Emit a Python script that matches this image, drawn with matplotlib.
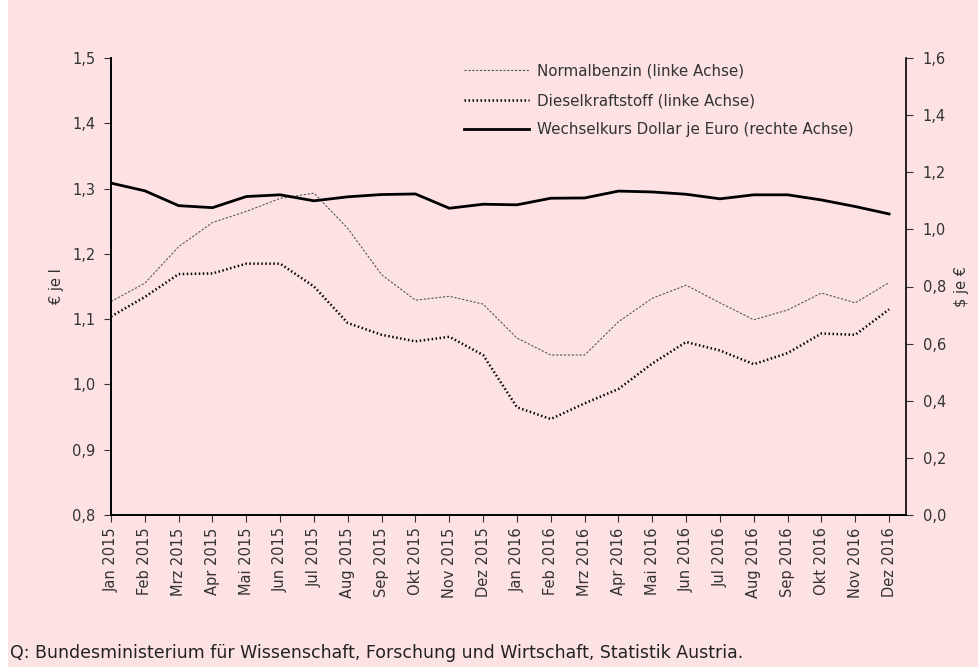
import matplotlib
matplotlib.use("Agg")
import matplotlib.pyplot as plt
from matplotlib.patches import Rectangle
import numpy as np

plt.rcParams['font.family'] = ['DejaVu Sans']

months = ['Jan 2015', 'Feb 2015', 'Mrz 2015', 'Apr 2015', 'Mai 2015', 'Jun 2015',
          'Jul 2015', 'Aug 2015', 'Sep 2015', 'Okt 2015', 'Nov 2015', 'Dez 2015',
          'Jan 2016', 'Feb 2016', 'Mrz 2016', 'Apr 2016', 'Mai 2016', 'Jun 2016',
          'Jul 2016', 'Aug 2016', 'Sep 2016', 'Okt 2016', 'Nov 2016', 'Dez 2016']

# Euro je Liter (linke Achse)
benzin = [1.127, 1.155, 1.211, 1.248, 1.265, 1.285, 1.293, 1.239, 1.168, 1.129, 1.135, 1.123,
          1.071, 1.045, 1.045, 1.096, 1.132, 1.152, 1.125, 1.099, 1.114, 1.140, 1.125, 1.156]
diesel = [1.104, 1.134, 1.169, 1.170, 1.185, 1.185, 1.150, 1.094, 1.076, 1.066, 1.073, 1.045,
          0.965, 0.947, 0.971, 0.993, 1.032, 1.065, 1.052, 1.031, 1.048, 1.078, 1.076, 1.115]
# Dollar je Euro (rechte Achse)
usd = [1.162, 1.135, 1.083, 1.076, 1.115, 1.121, 1.100, 1.114, 1.122, 1.124, 1.074, 1.088,
       1.086, 1.109, 1.110, 1.134, 1.131, 1.123, 1.107, 1.121, 1.121, 1.103, 1.080, 1.054]

pink = '#fde2e4'
txt = '#333333'

fig = plt.figure(figsize=(9.79, 6.67), dpi=100, facecolor=pink)
fig.patches.append(Rectangle((0, 0), 8 / 979, 1, transform=fig.transFigure,
                             facecolor='white', edgecolor='none', zorder=0))

ax = fig.add_axes([111 / 979, 1 - 515 / 667, 795 / 979, 457 / 667])
ax.set_facecolor('none')
ax2 = ax.twinx()

x = np.arange(len(months))
l1, = ax.plot(x, benzin, color='#555555', lw=0.8, linestyle=(0, (2, 1.5)),
              label='Normalbenzin (linke Achse)')
l2, = ax.plot(x, diesel, color='black', lw=1.8, linestyle=(0, (0.6, 1.0)),
              label='Dieselkraftstoff (linke Achse)')
l3, = ax2.plot(x, usd, color='black', lw=2.0,
               label='Wechselkurs Dollar je Euro (rechte Achse)')

ax.set_xlim(0, 23.5)
ax.set_ylim(0.8, 1.5)
ax.set_yticks(np.arange(0.8, 1.501, 0.1))
ax.set_yticklabels([f'{v:.1f}'.replace('.', ',') for v in np.arange(0.8, 1.501, 0.1)])
ax2.set_ylim(0, 1.6)
ax2.set_yticks(np.arange(0, 1.601, 0.2))
ax2.set_yticklabels([f'{v:.1f}'.replace('.', ',') for v in np.arange(0, 1.601, 0.2)])

ax.set_xticks(x)
ax.set_xticklabels(months, rotation=90)

for a in (ax, ax2):
    a.spines['top'].set_visible(False)
    a.tick_params(colors=txt, labelsize=10.5, length=5, width=0.8)
    for s in a.spines.values():
        s.set_linewidth(1.2)
ax.tick_params(axis='x', pad=4)
ax.tick_params(axis='y', pad=6)
ax2.tick_params(axis='y', pad=7)
ax.spines['right'].set_visible(False)

ax.set_ylabel('€ je l', color=txt, fontsize=10.5, labelpad=6)
ax2.set_ylabel('$ je €', color=txt, fontsize=10.5, labelpad=6)

ax.legend(handles=[l1, l2, l3], loc='upper left', bbox_to_anchor=(450 / 979, 1 - 50 / 667),
          bbox_transform=fig.transFigure, frameon=False, fontsize=10.9, handlelength=4.3,
          labelspacing=0.95, handletextpad=0.55, labelcolor=txt)

fig.text(10 / 979, 1 - 653 / 667, 'Q: Bundesministerium für Wissenschaft, Forschung und Wirtschaft, Statistik Austria.',
         fontsize=12.5, color='#222222', va='center')

fig.savefig('out.png', dpi=100, facecolor=pink)
